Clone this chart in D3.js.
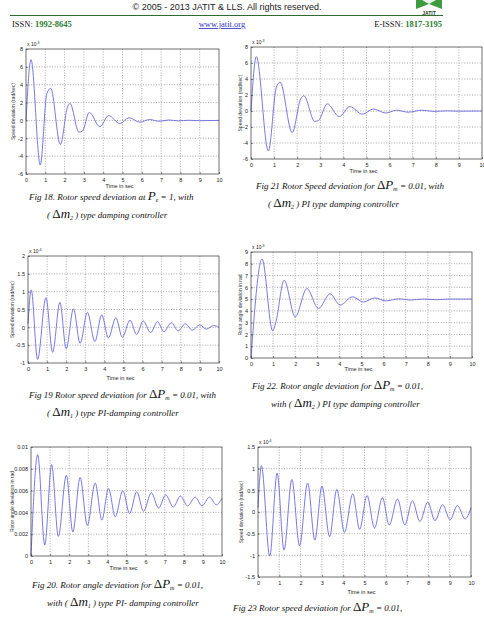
<!DOCTYPE html>
<html>
<head>
<meta charset="utf-8">
<script src="https://cdn.jsdelivr.net/npm/d3@7"></script>
<style>
  html, body { margin: 0; padding: 0; background: #fff; }
  svg { display: block; }
</style>
</head>
<body>
<div id="page"></div>
<script>
(function() {
  'use strict';

  // ---- data (peaks / troughs of each response) ----
  var timeTicks = [0, 1, 2, 3, 4, 5, 6, 7, 8, 9, 10];

  // Fig 18 : speed deviation x1e-3
  var fig18Time  = [0, 0.26, 0.74, 1.08, 1.28, 1.78, 2.15, 2.28, 2.74, 2.92, 3.28, 3.83, 4.28, 4.86, 5.34, 5.9, 6.4, 6.9, 7.4, 7.9, 8.4, 9.0, 10];
  var fig18Value = [0, 6.8, -5.0, 3.0, 3.6, -2.7, 1.5, 1.9, -1.3, -1.2, 0.9, -0.7, 0.55, -0.35, 0.3, -0.2, 0.1, -0.1, 0.05, -0.05, 0.02, -0.03, 0];
  var fig18Ticks = [-6, -4, -2, 0, 2, 4, 6, 8];

  // Fig 21 : speed deviation x1e-3
  var fig21Time  = [0, 0.23, 0.75, 1.1, 1.26, 1.78, 2.15, 2.29, 2.76, 2.92, 3.3, 3.82, 4.28, 4.82, 5.3, 5.83, 6.3, 6.8, 7.4, 7.9, 8.5, 9.0, 10];
  var fig21Value = [0, 6.8, -5.0, 3.0, 3.6, -2.7, 1.5, 1.9, -1.3, -1.2, 0.9, -0.7, 0.55, -0.4, 0.25, -0.25, 0.1, -0.15, 0.1, -0.05, 0.02, -0.02, 0];
  var fig21Ticks = [-6, -4, -2, 0, 2, 4, 6, 8];

  // Fig 19 : speed deviation x1e-4
  var fig19Time  = [0, 0.17, 0.5, 0.94, 1.29, 1.67, 2.0, 2.38, 2.73, 3.11, 3.5, 3.86, 4.21, 4.6, 4.94, 5.34, 5.69, 6.03, 6.42, 6.78, 7.11, 7.51, 7.86, 8.24, 8.6, 8.99, 9.34, 9.72, 10];
  var fig19Value = [0.1, 1.05, -0.9, 0.83, -0.7, 0.7, -0.6, 0.52, -0.45, 0.42, -0.4, 0.35, -0.3, 0.27, -0.28, 0.2, -0.2, 0.18, -0.15, 0.16, -0.12, 0.13, -0.1, 0.1, -0.08, 0.07, -0.05, 0.05, 0];
  var fig19Ticks = [-1, -0.5, 0, 0.5, 1, 1.5, 2];

  // Fig 22 : rotor angle deviation x1e-3
  var fig22Time  = [0, 0.5, 0.98, 1.12, 1.5, 2.0, 2.53, 3.05, 3.58, 4.03, 4.6, 5.08, 5.6, 6.1, 6.7, 7.2, 7.8, 8.4, 9.0, 10];
  var fig22Value = [0, 8.4, 2.3, 3.0, 6.6, 3.5, 5.9, 4.2, 5.45, 4.5, 5.2, 4.75, 5.1, 4.85, 5.02, 4.92, 5.0, 4.95, 5.0, 5.0];
  var fig22Ticks = [0, 1, 2, 3, 4, 5, 6, 7, 8, 9];

  // Fig 20 : rotor angle deviation (rad)
  var fig20Time  = [0, 0.35, 0.72, 1.08, 1.43, 1.85, 2.19, 2.57, 2.95, 3.36, 3.71, 4.06, 4.41, 4.81, 5.16, 5.54, 5.89, 6.3, 6.68, 7.05, 7.45, 7.82, 8.2, 8.6, 8.95, 9.35, 9.7, 10];
  var fig20Value = [0, 0.0093, 0.001, 0.0084, 0.0018, 0.0074, 0.0022, 0.0072, 0.0028, 0.0067, 0.0033, 0.0062, 0.0036, 0.006, 0.0039, 0.0059, 0.0041, 0.0058, 0.0044, 0.0056, 0.0045, 0.0055, 0.0046, 0.0054, 0.0046, 0.0054, 0.0047, 0.0053];
  var fig20Ticks = [0, 0.002, 0.004, 0.006, 0.008, 0.01];
  var fig20TickLabels = ['0', '0.002', '0.004', '0.006', '0.008', '0.01'];

  // Fig 23 : speed deviation x1e-4
  var fig23Time  = [0, 0.16, 0.55, 0.9, 1.22, 1.59, 1.95, 2.33, 2.67, 3.0, 3.36, 3.7, 4.06, 4.45, 4.77, 5.12, 5.47, 5.84, 6.16, 6.55, 6.89, 7.25, 7.6, 7.97, 8.31, 8.67, 9.02, 9.36, 9.72, 10];
  var fig23Value = [0.1, 1.07, -1.02, 0.9, -0.88, 0.75, -0.78, 0.67, -0.65, 0.6, -0.57, 0.52, -0.47, 0.42, -0.4, 0.38, -0.37, 0.33, -0.3, 0.3, -0.3, 0.26, -0.22, 0.23, -0.2, 0.17, -0.18, 0.15, -0.16, 0.1];
  var fig23Ticks = [-1.5, -1, -0.5, 0, 0.5, 1, 1.5];

  var W = 484, H = 621;
  var lineColor = '#6a6ade';
  var serif = '"Liberation Serif", "Times New Roman", serif';
  var sans = '"Liberation Sans", Arial, sans-serif';

  var svg = d3.select('#page')
    .append('svg')
    .attr('width', W)
    .attr('height', H);

  // ---- page header ----
  svg.append('text')
    .attr('x', 227).attr('y', 10)
    .attr('text-anchor', 'middle')
    .style('font-family', sans).style('font-size', '9px')
    .attr('fill', '#222')
    .text('\u00a9 2005 - 2013 JATIT & LLS. All rights reserved.');

  svg.append('line')
    .attr('x1', 10).attr('x2', 443).attr('y1', 15.5).attr('y2', 15.5)
    .attr('stroke', '#2e6b2e').attr('stroke-width', 1.2);

  // logo
  var logo = svg.append('g').attr('transform', 'translate(414,0)');
  logo.append('path')
    .attr('d', 'M2,0 L28,0 L28,9 L15,4 L2,9 Z')
    .attr('fill', '#3d9a3d');
  logo.append('path')
    .attr('d', 'M8,0 L15,4 L22,0 Z')
    .attr('fill', '#e8f4e8');
  logo.append('text')
    .attr('x', 15).attr('y', 14.5).attr('text-anchor', 'middle')
    .style('font-family', sans).style('font-size', '5px').style('font-weight', 'bold')
    .attr('fill', '#1d3d1d')
    .text('JATIT');

  var issn = svg.append('text')
    .attr('x', 12).attr('y', 27)
    .style('font-family', serif).style('font-size', '8.5px');
  issn.append('tspan').attr('fill', '#111').text('ISSN: ');
  issn.append('tspan').attr('fill', '#2e7d2e').style('font-weight', 'bold').text('1992-8645');

  svg.append('text')
    .attr('x', 222).attr('y', 27).attr('text-anchor', 'middle')
    .style('font-family', serif).style('font-size', '8.5px')
    .style('text-decoration', 'underline')
    .attr('fill', '#3333cc')
    .text('www.jatit.org');

  var eissn = svg.append('text')
    .attr('x', 442).attr('y', 27).attr('text-anchor', 'end')
    .style('font-family', serif).style('font-size', '8.5px');
  eissn.append('tspan').attr('fill', '#111').text('E-ISSN: ');
  eissn.append('tspan').attr('fill', '#2e7d2e').style('font-weight', 'bold').text('1817-3195');

  // ---- one MATLAB-style plot ----
  function drawPlot(o) {
    var g = svg.append('g');
    var x = d3.scaleLinear().domain([0, 10]).range([o.left, o.right]);
    var y = d3.scaleLinear().domain(o.yDomain).range([o.bottom, o.top]);

    // grid
    g.selectAll('line.gx')
      .data(timeTicks.slice(1, -1))
      .enter().append('line')
      .attr('x1', function(d) { return x(d); }).attr('x2', function(d) { return x(d); })
      .attr('y1', o.top).attr('y2', o.bottom)
      .attr('stroke', '#555').attr('stroke-width', 0.5)
      .attr('stroke-dasharray', '1,1.6');
    g.selectAll('line.gy')
      .data(o.yTicks.slice(1, -1))
      .enter().append('line')
      .attr('x1', o.left).attr('x2', o.right)
      .attr('y1', function(d) { return y(d); }).attr('y2', function(d) { return y(d); })
      .attr('stroke', '#555').attr('stroke-width', 0.5)
      .attr('stroke-dasharray', '1,1.6');

    // response
    var pts = o.time.map(function(t, i) { return [t, o.value[i]]; });
    g.append('path')
      .datum(pts)
      .attr('fill', 'none')
      .attr('stroke', lineColor)
      .attr('stroke-width', 0.9)
      .attr('d', d3.line()
        .x(function(d) { return x(d[0]); })
        .y(function(d) { return y(d[1]); })
        .curve(d3.curveMonotoneX));

    // axes
    var xAxis = d3.axisBottom(x).tickValues(timeTicks).tickSize(-2).tickPadding(4)
      .tickFormat(d3.format('d'));
    var xg = g.append('g').attr('transform', 'translate(0,' + o.bottom + ')').call(xAxis);
    var yAxis = d3.axisLeft(y).tickValues(o.yTicks).tickSize(-2).tickPadding(3)
      .tickFormat(function(d, i) { return o.yLabels ? o.yLabels[i] : String(d); });
    var yg = g.append('g').attr('transform', 'translate(' + o.left + ',0)').call(yAxis);
    [xg, yg].forEach(function(ax) {
      ax.select('.domain').remove();
      ax.selectAll('line').attr('stroke', '#222').attr('stroke-width', 0.5);
      ax.selectAll('text').style('font-family', sans).style('font-size', '5.5px').attr('fill', '#222');
    });

    g.append('rect')
      .attr('x', o.left).attr('y', o.top)
      .attr('width', o.right - o.left).attr('height', o.bottom - o.top)
      .attr('fill', 'none').attr('stroke', '#333').attr('stroke-width', 0.7);

    // exponent
    if (o.exponent) {
      var ex = g.append('text')
        .attr('x', o.left + 1).attr('y', o.top - 3)
        .style('font-family', sans).style('font-size', '5px').attr('fill', '#222');
      ex.append('tspan').text('x 10');
      ex.append('tspan').attr('dy', -2.5).style('font-size', '3.5px').text(o.exponent);
    }

    g.append('text')
      .attr('x', (o.left + o.right) / 2 - 3).attr('y', o.xLabelY)
      .attr('text-anchor', 'middle')
      .style('font-family', sans).style('font-size', '5.5px').attr('fill', '#222')
      .text('Time in sec');

    g.append('text')
      .attr('transform', 'translate(' + o.yLabelX + ',' + ((o.top + o.bottom) / 2) + ') rotate(-90)')
      .attr('text-anchor', 'middle')
      .style('font-family', sans).style('font-size', '5px').attr('fill', '#333')
      .text(o.yLabel);
  }

  // caption: list of segments rendered as tspans
  function caption(x, y, parts) {
    var t = svg.append('text')
      .attr('x', x).attr('y', y)
      .style('font-family', serif).style('font-style', 'italic')
      .style('font-size', '9px').attr('fill', '#111');
    parts.forEach(function(p) {
      if (p.big) {
        t.append('tspan').style('font-size', '13px').style('font-style', 'normal').text(p.big);
      } else if (p.bigI) {
        t.append('tspan').style('font-size', '13px').text(p.bigI);
      } else if (p.sub) {
        t.append('tspan').attr('dy', 2).style('font-size', '6px').text(p.sub);
        t.append('tspan').attr('dy', -2).text(' ');
      } else {
        t.append('tspan').text(p.t);
      }
    });
  }

  drawPlot({ left: 26, right: 219, top: 49, bottom: 174, yDomain: [-6, 8], yTicks: fig18Ticks,
    time: fig18Time, value: fig18Value, exponent: '-3', xLabelY: 188, yLabelX: 15,
    yLabel: 'Speed deviation (rad/sec)' });
  drawPlot({ left: 251, right: 482, top: 47, bottom: 159, yDomain: [-6, 8], yTicks: fig21Ticks,
    time: fig21Time, value: fig21Value, exponent: '-3', xLabelY: 173, yLabelX: 242,
    yLabel: 'Speed deviation (rad/sec)' });
  drawPlot({ left: 28, right: 219, top: 256, bottom: 363, yDomain: [-1, 2], yTicks: fig19Ticks,
    time: fig19Time, value: fig19Value, exponent: '-4', xLabelY: 380, yLabelX: 14,
    yLabel: 'Speed deviation (rad/sec)' });
  drawPlot({ left: 251, right: 472, top: 252, bottom: 358, yDomain: [0, 9], yTicks: fig22Ticks,
    time: fig22Time, value: fig22Value, exponent: '-3', xLabelY: 371, yLabelX: 242,
    yLabel: 'Rotor angle deviation in rad' });
  drawPlot({ left: 31, right: 222, top: 447, bottom: 556, yDomain: [0, 0.01], yTicks: fig20Ticks,
    yLabels: fig20TickLabels, time: fig20Time, value: fig20Value, exponent: null,
    xLabelY: 570, yLabelX: 14, yLabel: 'Rotor angle deviation in rad' });
  drawPlot({ left: 258, right: 471, top: 447, bottom: 577, yDomain: [-1.5, 1.5], yTicks: fig23Ticks,
    time: fig23Time, value: fig23Value, exponent: '-4', xLabelY: 594, yLabelX: 243,
    yLabel: 'Speed deviation in (rad/sec)' });

  caption(29, 200, [{ t: 'Fig 18. Rotor speed deviation at  ' }, { bigI: 'P' }, { sub: 'e' }, { t: ' = 1, with' }]);
  caption(47, 218, [{ t: '( ' }, { big: '\u0394' }, { bigI: 'm' }, { sub: '2' }, { t: ') type damping controller' }]);

  caption(256, 189, [{ t: 'Fig 21 Rotor Speed deviation for  ' }, { big: '\u0394' }, { bigI: 'P' }, { sub: 'm' }, { t: ' = 0.01, with' }]);
  caption(268, 207, [{ t: '( ' }, { big: '\u0394' }, { bigI: 'm' }, { sub: '2' }, { t: ') PI type damping controller' }]);

  caption(29, 398, [{ t: 'Fig 19 Rotor speed deviation for  ' }, { big: '\u0394' }, { bigI: 'P' }, { sub: 'm' }, { t: ' = 0.01, with' }]);
  caption(47, 416, [{ t: '( ' }, { big: '\u0394' }, { bigI: 'm' }, { sub: '1' }, { t: ') type PI-damping controller' }]);

  caption(252, 389, [{ t: 'Fig 22.  Rotor angle deviation for  ' }, { big: '\u0394' }, { bigI: 'P' }, { sub: 'm' }, { t: ' = 0.01,' }]);
  caption(271, 407, [{ t: 'with ( ' }, { big: '\u0394' }, { bigI: 'm' }, { sub: '2' }, { t: ') PI type damping controller' }]);

  caption(32, 588, [{ t: 'Fig 20. Rotor angle deviation for  ' }, { big: '\u0394' }, { bigI: 'P' }, { sub: 'm' }, { t: ' = 0.01,' }]);
  caption(47, 606, [{ t: 'with ( ' }, { big: '\u0394' }, { bigI: 'm' }, { sub: '1' }, { t: ') type PI- damping controller' }]);

  caption(233, 611, [{ t: 'Fig 23  Rotor speed deviation for  ' }, { big: '\u0394' }, { bigI: 'P' }, { sub: 'm' }, { t: ' = 0.01,' }]);
  caption(253, 629, [{ t: '( ' }, { big: '\u0394' }, { bigI: 'm' }, { sub: '2' }, { t: ') PI type damping controller' }]);
})();
</script>
</body>
</html>
